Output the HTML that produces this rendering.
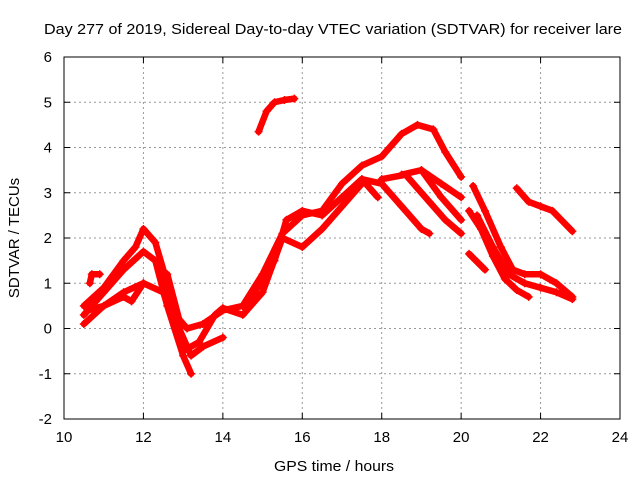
<!DOCTYPE html>
<html><head><meta charset="utf-8"><style>
body{margin:0;background:#fff;}
svg{display:block;font-family:"Liberation Sans",sans-serif;}
</style></head><body>
<svg id="chart" width="640" height="480">
<text x="333" y="34" font-size="15" text-anchor="middle" textLength="578" lengthAdjust="spacingAndGlyphs">Day 277 of 2019, Sidereal Day-to-day VTEC variation (SDTVAR) for receiver lare</text>
<text x="334" y="471" font-size="15" text-anchor="middle" textLength="120" lengthAdjust="spacingAndGlyphs">GPS time / hours</text>
<text transform="translate(19,238) rotate(-90)" font-size="15" text-anchor="middle">SDTVAR / TECUs</text>
<g id="grid"></g><g id="ticks"></g><g id="marks"></g>
<rect x="64" y="57" width="556" height="362" fill="none" stroke="#000" stroke-width="1"/>
</svg>
<script>
const xTicks=[10,12,14,16,18,20,22,24];
const yTicks=[-2,-1,0,1,2,3,4,5,6];
const sTop=[[14.9,4.35],[15.1,4.8],[15.3,5.0],[15.55,5.05],[15.8,5.08]];
const sT1=[[10.5,0.5],[11,0.9],[11.5,1.5],[11.8,1.8],[12,2.2],[12.3,1.9],[12.6,1.0],[12.9,0.0],[13.2,-0.6],[13.5,-0.4],[14,-0.2]];
const sT2=[[10.5,0.3],[11,0.8],[11.5,1.3],[12,1.7],[12.3,1.5],[12.6,0.5],[13,-0.6],[13.2,-1.0]];
const sT3=[[10.5,0.1],[11,0.5],[11.5,0.8],[12,1.0],[12.5,0.8],[12.8,0.0],[13,-0.5],[13.4,-0.3],[13.8,0.3],[14,0.45],[14.5,0.3],[15,0.8],[15.5,2.0],[16,1.8],[16.5,2.2],[17,2.7],[17.5,3.2]];
const sT4=[[10.6,0.4],[11,0.5],[11.5,0.7],[11.7,0.6],[12,1.0]];
const sT5=[[10.65,1.0],[10.7,1.2],[10.9,1.2]];
const sT6=[[12.6,1.2],[12.9,0.2],[13.1,0.0],[13.5,0.1],[14,0.4],[14.5,0.5],[14.8,0.8],[15.3,1.5],[15.6,2.4],[16,2.6],[16.5,2.5],[17,2.9],[17.5,3.3],[17.9,2.9]];
const sMain=[[14.5,0.5],[15,1.2],[15.5,2.1],[16,2.5],[16.5,2.6],[17,3.2],[17.5,3.6],[18,3.8],[18.5,4.3],[18.9,4.5],[19.3,4.4],[19.6,3.9],[20,3.35]];
const sB2=[[17.5,3.3],[18,3.2],[18.5,2.7],[19,2.2],[19.2,2.1]];
const sB3=[[18,3.3],[18.6,3.4],[19.2,2.8],[19.6,2.4],[20,2.1]];
const sB4=[[18.5,3.4],[19,3.5],[19.5,2.9],[20,2.4]];
const sB5=[[19,3.5],[19.5,3.2],[20,2.9]];
const sR1=[[20.3,3.15],[20.6,2.6],[21,1.8],[21.3,1.3],[21.6,1.2],[22,1.2],[22.4,1.0],[22.8,0.7]];
const sR2=[[20.2,2.6],[20.5,2.2],[20.8,1.6],[21.1,1.1],[21.4,0.85],[21.7,0.7]];
const sR3=[[20.4,2.5],[20.8,1.8],[21.2,1.2],[21.6,1.0],[22,0.9],[22.4,0.8],[22.8,0.65]];
const sR4=[[20.2,1.65],[20.6,1.3]];
const sR5=[[21.4,3.1],[21.7,2.8],[22,2.7],[22.3,2.6],[22.8,2.15]];
const series=[sTop,sT1,sT2,sT3,sT4,sT5,sT6,sMain,sB2,sB3,sB4,sB5,sR1,sR2,sR3,sR4,sR5];
const X=h=>64+(h-10)*(556/14);
const Y=v=>419-(v+2)*(362/8);
const NS="http://www.w3.org/2000/svg";
const grid=document.getElementById('grid'),tk=document.getElementById('ticks'),mk=document.getElementById('marks');
function el(t,a,p){const e=document.createElementNS(NS,t);for(const k in a)e.setAttribute(k,a[k]);p.appendChild(e);return e;}
xTicks.forEach(t=>{
 if(t>10&&t<24){const g=el('line',{x1:X(t),x2:X(t),y1:57,y2:419,stroke:'#999','stroke-dasharray':'2,3'},grid);
 
 }
 const l=el('text',{x:X(t),y:442,'font-size':15,'text-anchor':'middle'},tk);l.textContent=t;
 
 
 el('line',{x1:X(t),x2:X(t),y1:419,y2:413,stroke:'#000'},tk);el('line',{x1:X(t),x2:X(t),y1:57,y2:63,stroke:'#000'},tk);
});
yTicks.forEach(t=>{
 if(t>-2&&t<6){const g=el('line',{x1:64,x2:620,y1:Y(t),y2:Y(t),stroke:'#999','stroke-dasharray':'2,3'},grid);
 
 }
 const l=el('text',{x:52,y:Y(t)+5,'font-size':15,'text-anchor':'end'},tk);l.textContent=t;
 
 
 el('line',{x1:64,x2:70,y1:Y(t),y2:Y(t),stroke:'#000'},tk);el('line',{x1:620,x2:614,y1:Y(t),y2:Y(t),stroke:'#000'},tk);
});
series.forEach((s,i)=>{
 const p=el('polyline',{points:s.map(d=>X(d[0])+','+Y(d[1])).join(' '),fill:'none',stroke:'#f00','stroke-width':6.5,'stroke-linejoin':'round','stroke-linecap':'round'},mk);
 
 
 s.forEach(d=>{
  const m=el('path',{d:`M${X(d[0])-4},${Y(d[1])}h8M${X(d[0])},${Y(d[1])-4}v8`,stroke:'#f00','stroke-width':1.5},mk);
  
  
 });
});
</script>
</body></html>
